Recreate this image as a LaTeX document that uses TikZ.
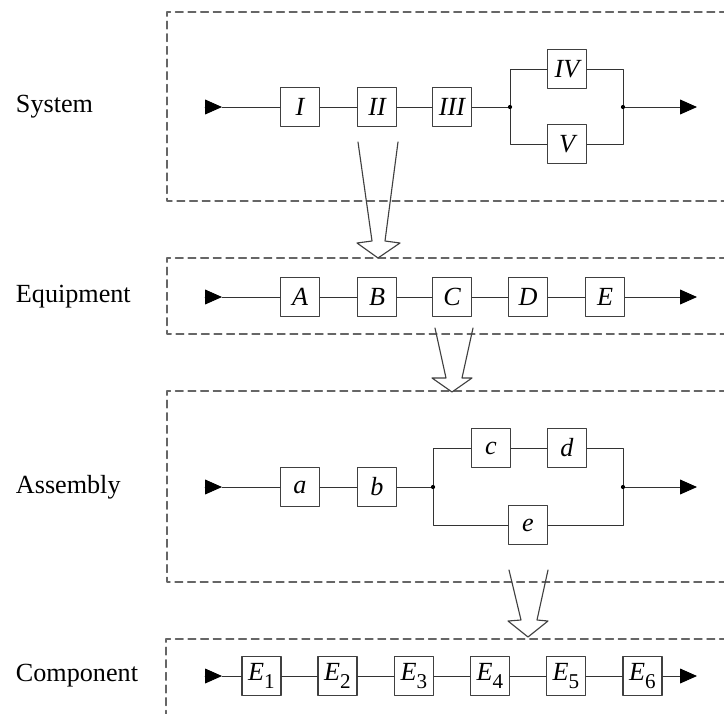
\documentclass[tikz,border=0pt]{standalone}
\usepackage{fontspec}
\setmainfont{Liberation Serif}
\usetikzlibrary{arrows.meta}
\newcommand\lowidx[1]{\raisebox{-.7ex}{\fontsize{15}{15}\selectfont\upshape #1}}

\begin{document}
\begin{tikzpicture}[x=0.025cm,y=-0.025cm,line cap=round,line join=round,
    font=\fontsize{18.6}{22}\selectfont,
    blk/.style={draw=black!75,line width=0.9pt,minimum width=0.97cm,minimum height=0.97cm,
      inner sep=0pt,font=\fontsize{18.6}{22}\selectfont\itshape},
    wire/.style={black!80,line width=0.7pt},
    feed/.style={wire,-{Triangle[length=12pt,width=10.5pt,color=black]}},
    frame/.style={black!60,line width=0.9pt,dash pattern=on 5.5pt off 3.5pt},
    dot/.style={circle,fill=black,inner sep=0pt,minimum size=3pt},
    hollow/.style={black!75,line width=0.8pt}]
  \clip (0,0) rectangle (724,713);

  % frames of the four levels, open to the right
  \draw[frame] (740,12) -- (167,12) -- (167,201) -- (740,201);
  \draw[frame] (740,258) -- (167,258) -- (167,334) -- (740,334);
  \draw[frame] (740,391) -- (167,391) -- (167,582) -- (740,582);
  \draw[frame] (740,639) -- (166,639) -- (166,730);

  \node[anchor=west] (lsys) at (11,107) {System};
  \node[anchor=west] (lequ) at (11,297) {Equipment};
  \node[anchor=west] (lass) at (11,487) {Assembly};
  \node[anchor=west] (lcom) at (11,676) {Component};

  % system
  \node[blk] (I) at (300,107) {I};
  \node[blk] (II) at (377,107) {II};
  \node[blk] (III) at (452,107) {III};
  \node[blk] (IV) at (567,69) {IV};
  \node[blk] (V) at (567,144) {V};
  \node[dot] (sj1) at (510,107) {};
  \node[dot] (sj2) at (623,107) {};
  \coordinate (s0) at (205,107);
  \coordinate (s1) at (222,107);
  \coordinate (s9) at (697,107);
  \draw[feed] (s0) -- (s1);
  \draw[wire] (s1) -- (I) -- (II) -- (III) -- (sj1) |- (IV.west) (IV.east) -| (sj2);
  \draw[wire] (sj1) |- (V.west) (V.east) -| (sj2);
  \draw[feed] (sj2) -- (s9);

  % equipment
  \node[blk] (A) at (300,297) {A};
  \node[blk] (B) at (377,297) {B};
  \node[blk] (C) at (452,297) {C};
  \node[blk] (D) at (528,297) {D};
  \node[blk] (E) at (605,297) {E};
  \coordinate (q0) at (205,297);
  \coordinate (q1) at (222,297);
  \coordinate (q9) at (697,297);
  \draw[feed] (q0) -- (q1);
  \draw[wire] (q1) -- (A) -- (B) -- (C) -- (D) -- (E);
  \draw[feed] (E) -- (q9);

  % assembly
  \node[blk] (a) at (300,487) {a};
  \node[blk] (b) at (377,487) {b};
  \node[blk] (c) at (491,448) {c};
  \node[blk] (d) at (567,448) {d};
  \node[blk] (e) at (528,525) {e};
  \node[dot] (aj1) at (433,487) {};
  \node[dot] (aj2) at (623,487) {};
  \coordinate (a0) at (205,487);
  \coordinate (a1) at (222,487);
  \coordinate (a9) at (697,487);
  \draw[feed] (a0) -- (a1);
  \draw[wire] (a1) -- (a) -- (b) -- (aj1) |- (c.west) (c) -- (d) (d.east) -| (aj2);
  \draw[wire] (aj1) |- (e.west) (e.east) -| (aj2);
  \draw[feed] (aj2) -- (a9);

  % component
  \node[blk] (E1) at (261.5,676) {E\lowidx{1}};
  \node[blk] (E2) at (337.5,676) {E\lowidx{2}};
  \node[blk] (E3) at (414,676) {E\lowidx{3}};
  \node[blk] (E4) at (490,676) {E\lowidx{4}};
  \node[blk] (E5) at (566,676) {E\lowidx{5}};
  \node[blk] (E6) at (642.5,676) {E\lowidx{6}};
  \coordinate (c0) at (205,676);
  \coordinate (c1) at (222,676);
  \coordinate (c9) at (697,676);
  \draw[feed] (c0) -- (c1);
  \draw[wire] (c1) -- (E1) -- (E2) -- (E3) -- (E4) -- (E5) -- (E6);
  \draw[feed] (E6) -- (c9);

  % open arrows between the levels
  \draw[hollow] (358,142) -- (372,241) -- (357,243) -- (378,258) -- (400,243) -- (385,241) -- (398,142);
  \draw[hollow] (435,328) -- (446,378) -- (432,378) -- (452,392) -- (472,378) -- (462,378) -- (473,328);
  \draw[hollow] (509,570) -- (521,620) -- (508,621) -- (528,637) -- (548,621) -- (537,620) -- (548,570);
\end{tikzpicture}
\end{document}
